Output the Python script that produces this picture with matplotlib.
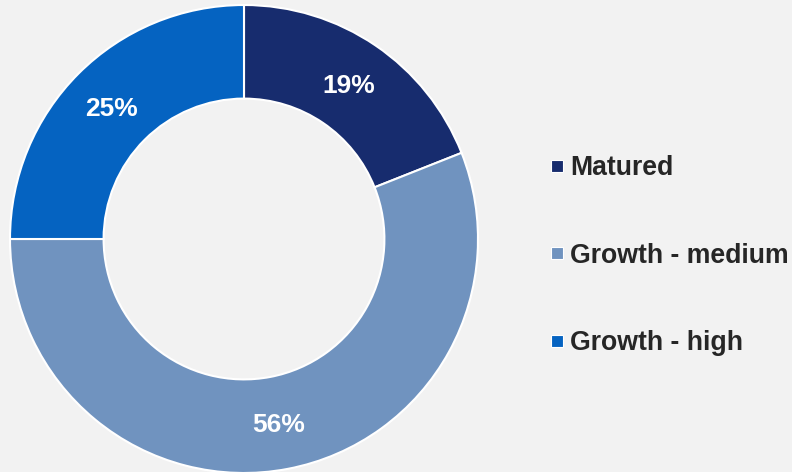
import matplotlib
matplotlib.use('Agg')
import matplotlib.pyplot as plt
import numpy as np
from matplotlib.lines import Line2D

# Participación por segmento
segments = ["Matured", "Growth - medium", "Growth - high"]
shares = [19, 56, 25]
colors = ["#172C6E", "#7093BF", "#0563C1"]

BG = "#F2F2F2"
plt.rcParams['font.family'] = ['Liberation Sans', 'DejaVu Sans']

fig = plt.figure(figsize=(7.92, 4.72), dpi=100)
fig.patch.set_facecolor(BG)
ax = fig.add_axes([0, 0, 1, 1])
ax.set_facecolor(BG)

CX, CY, R = 244, 233, 234
wedges, texts = ax.pie(
    shares, colors=colors, startangle=90, counterclock=False,
    center=(CX, CY), radius=R,
    wedgeprops=dict(width=R * 0.4, edgecolor="white", linewidth=1.5),
)

# Porcentajes en medio del anillo
for w, s in zip(wedges, shares):
    ang = np.deg2rad((w.theta1 + w.theta2) / 2)
    r = R * 0.8
    ax.text(CX + r * np.cos(ang), CY + r * np.sin(ang) - 2, f"{s}%",
            ha="center", va="center", fontsize=19, fontweight="bold",
            color="white")

ax.set_xlim(0, 792)
ax.set_ylim(0, 472)
ax.set_aspect("equal")
ax.axis("off")

handles = [Line2D([], [], marker="s", linestyle="none", markersize=8.5,
                  markerfacecolor=c, markeredgecolor="white", markeredgewidth=0.8)
           for c in colors]
leg = ax.legend(handles, segments, loc="center left", bbox_to_anchor=(0.676, 0.458),
                frameon=False, handlelength=0.6, handletextpad=0.2,
                labelspacing=2.3, borderpad=0,
                prop=dict(size=19.2, weight="bold"))
for t in leg.get_texts():
    t.set_color("#262626")

plt.savefig("out.png", dpi=100, facecolor=fig.get_facecolor())
plt.close()
